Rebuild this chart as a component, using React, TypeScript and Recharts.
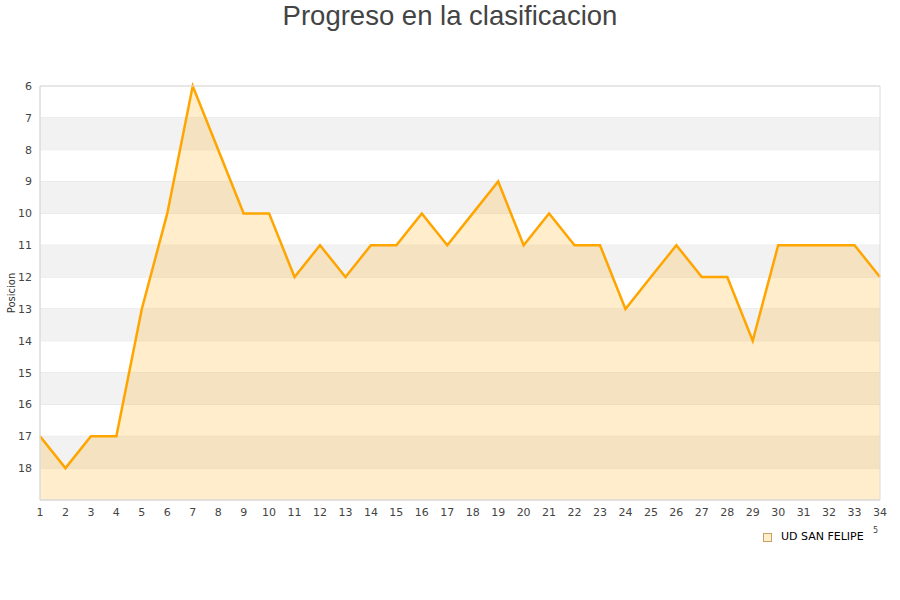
import React from 'react'
import {
  AreaChart,
  Area,
  XAxis,
  YAxis,
  CartesianGrid,
  ReferenceArea,
} from 'recharts'

// Jornadas y posiciones de la temporada
const JORNADAS = [
  1, 2, 3, 4, 5, 6, 7, 8, 9, 10, 11, 12, 13, 14, 15, 16, 17,
  18, 19, 20, 21, 22, 23, 24, 25, 26, 27, 28, 29, 30, 31, 32, 33, 34,
]
const POSICIONES = [
  17, 18, 17, 17, 13, 10, 6, 8, 10, 10, 12, 11, 12, 11, 11, 10, 11,
  10, 9, 11, 10, 11, 11, 13, 12, 11, 12, 12, 14, 11, 11, 11, 11, 12,
]
const Y_TICKS = [6, 7, 8, 9, 10, 11, 12, 13, 14, 15, 16, 17, 18]
// franjas grises (desde, hasta)
const BANDS: [number, number][] = [
  [7, 8],
  [9, 10],
  [11, 12],
  [13, 14],
  [15, 16],
  [17, 18],
]
const EQUIPO = 'UD SAN FELIPE'

const data = JORNADAS.map((j, i) => ({ jornada: j, pos: POSICIONES[i] }))

const tickStyle = { fontSize: 11, fill: '#444', fontFamily: 'DejaVu Sans' }

function LegendBox() {
  return (
    <div
      style={{
        position: 'absolute',
        left: 763,
        top: 530,
        fontFamily: 'DejaVu Sans',
        fontSize: 11,
        lineHeight: '13px',
        color: '#000',
      }}
    >
      <span
        style={{
          position: 'absolute',
          left: 0,
          top: 3,
          width: 7,
          height: 7,
          background: '#ffeecc',
          border: '1px solid #c8a060',
        }}
      />
      <span style={{ position: 'absolute', left: 18, top: 0, whiteSpace: 'nowrap' }}>{EQUIPO}</span>
      <span style={{ position: 'absolute', left: 110, top: -4, fontSize: 8, lineHeight: '9px', color: '#444' }}>5</span>
    </div>
  )
}

export default function App() {
  return (
    <div style={{ position: 'absolute', left: 0, top: 0, width: 900, height: 600, background: '#fff' }}>
      <div
        style={{
          position: 'absolute',
          left: 0,
          top: 0,
          width: 900,
          textAlign: 'center',
          fontFamily: 'Liberation Sans',
          fontSize: 27.5,
          lineHeight: '32px',
          color: '#444',
        }}
      >
        Progreso en la clasificacion
      </div>
      <AreaChart width={900} height={600} data={data} margin={{ top: 86, right: 20, bottom: 70, left: 0 }}>
        {BANDS.map(([a, b]) => (
          <ReferenceArea key={a} y1={a} y2={b} x1={1} x2={34} fill="#f2f2f2" fillOpacity={1} stroke="none" />
        ))}
        <CartesianGrid vertical={false} stroke="#e2e2e2" />
        <XAxis
          dataKey="jornada"
          type="number"
          domain={[1, 34]}
          ticks={JORNADAS}
          interval={0}
          tick={tickStyle}
          tickLine={false}
          axisLine={{ stroke: '#dcdcdc' }}
          height={30}
        />
        <YAxis
          reversed
          type="number"
          domain={[6, 19]}
          ticks={Y_TICKS}
          interval={0}
          tick={tickStyle}
          tickLine={false}
          axisLine={{ stroke: '#dcdcdc' }}
          width={40}
          label={{
            value: 'Posicion',
            angle: -90,
            position: 'insideLeft',
            offset: 11,
            style: { fontSize: 10, fill: '#333', fontFamily: 'DejaVu Sans', textAnchor: 'middle' },
          }}
        />
        <Area
          type="linear"
          dataKey="pos"
          baseValue={19}
          stroke="#ffa500"
          strokeWidth={2.5}
          fill="#ffa500"
          fillOpacity={0.2}
          dot={false}
          activeDot={false}
          isAnimationActive={false}
        />
        <ReferenceArea x1={1} x2={34} y1={6} y2={19} fill="none" stroke="#dcdcdc" />
      </AreaChart>
      <LegendBox />
    </div>
  )
}
